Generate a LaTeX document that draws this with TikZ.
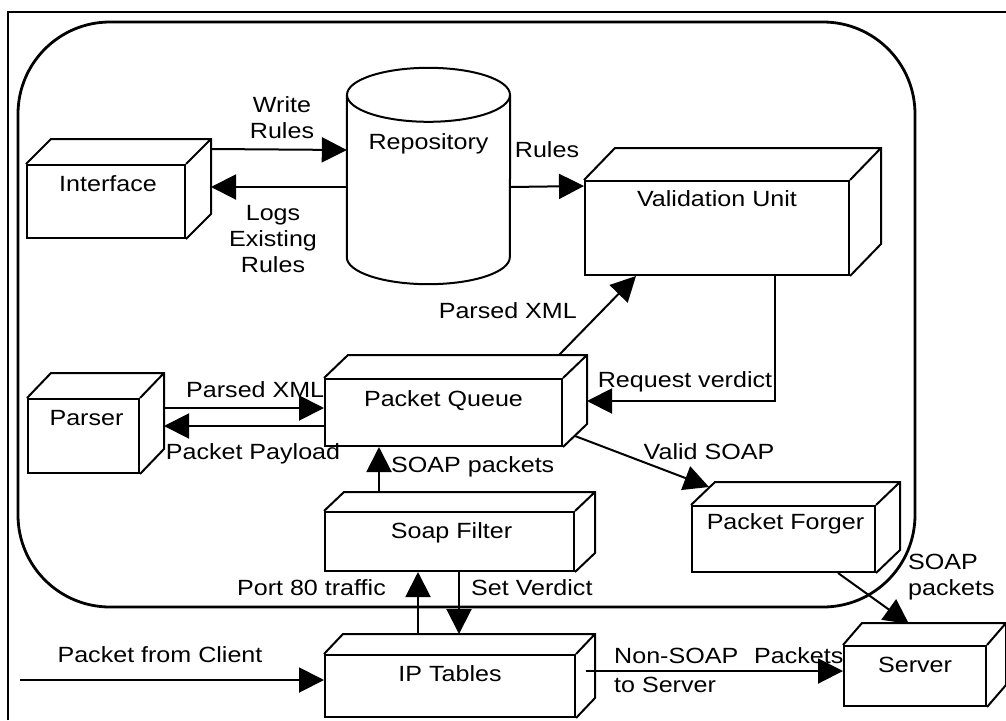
\documentclass[tikz,border=0pt]{standalone}
\usepackage{fontspec}
\setmainfont{Liberation Sans}[FakeStretch=1.14]
\usetikzlibrary{arrows.meta,calc,backgrounds}
\newcommand\cubefaces[3]{%
  \draw[boxline] (#1.north west) -- ++(#2,#3) -- ($(#1.north east)+(#2,#3)$)
    -- ($(#1.south east)+(#2,#3)$) -- (#1.south east)
    (#1.north east) -- ++(#2,#3);}
\begin{document}
\begin{tikzpicture}[x=1pt,y=-1pt,
  every node/.style={font=\fontsize{22}{26}\selectfont, inner sep=1pt},
  boxline/.style={line width=2pt, line join=miter},
  cube/.style={draw, boxline, fill=white, inner sep=0pt},
  boxtext/.style={anchor=center, yshift=-20pt, text height=15pt, text depth=0pt},
  lbl/.style={align=center},
  lbl1/.style={text height=15pt, text depth=0pt},
  arr/.style={line width=2pt, -{Triangle[length=25pt,width=25pt]}}]
\useasboundingbox (0,0) rectangle (1006,720);
% outer frame
\draw[line width=2.6pt] (8,720) -- (8,12) -- (1006,12);
% enclosing rounded box
\draw[line width=2.8pt, rounded corners=92pt] (18,22) rectangle (915,607);

% repository cylinder
\node[minimum width=163pt, minimum height=216pt, inner sep=0pt,
      label={[boxtext, yshift=-54pt]north:Repository}] (repo) at (428.5,176) {};
\begin{pgfonlayer}{background}
\draw[boxline, fill=white] ([shift={(0,27)}]repo.north west) -- ([shift={(0,-27)}]repo.south west)
  arc[start angle=180, end angle=360, x radius=81.5pt, y radius=27pt]
  -- ([shift={(0,27)}]repo.north east);
\draw[boxline, fill=white] ([shift={(0,27)}]repo.north) ellipse[x radius=81.5pt, y radius=27pt];
\end{pgfonlayer}

% boxes
\node[cube, minimum width=158pt, minimum height=73pt, label={[boxtext, xshift=2pt]north:Interface}] (iface) at (106,201.5) {};
\cubefaces{iface}{25}{-25}
\node[cube, minimum width=264pt, minimum height=94pt, label={[boxtext, yshift=1pt]north:Validation Unit}] (valid) at (717,228) {};
\cubefaces{valid}{31}{-32}
\node[cube, minimum width=237pt, minimum height=67pt, label={[boxtext, yshift=-1pt]north:Packet Queue}] (queue) at (443.5,412.5) {};
\cubefaces{queue}{24}{-23}
\node[cube, minimum width=111pt, minimum height=74pt, label={[boxtext, xshift=3pt]north:Parser}] (parser) at (83.5,436) {};
\cubefaces{parser}{24}{-25}
\node[cube, minimum width=249pt, minimum height=59pt, label={[boxtext, xshift=2pt]north:Soap Filter}] (filter) at (449.5,541.5) {};
\cubefaces{filter}{20}{-19}
\node[cube, minimum width=250pt, minimum height=62pt, label={[boxtext]north:IP Tables}] (ipt) at (450,686) {};
\cubefaces{ipt}{19}{-20}
\node[cube, minimum width=183pt, minimum height=66pt, label={[boxtext, yshift=3pt, xshift=2pt]north:Packet Forger}] (forger) at (783.5,539) {};
\cubefaces{forger}{24}{-23}
\node[cube, minimum width=142pt, minimum height=60pt, label={[boxtext]north:Server}] (server) at (915,676) {};
\cubefaces{server}{19}{-22}

% connectors
\draw[arr] ([shift={(25,-15)}]iface.north east) -- ([shift={(0,-26)}]repo.west);
\draw[arr] ([shift={(0,11)}]repo.west) -- ([shift={(25,-14.5)}]iface.east);
\draw[arr] ([shift={(0,11)}]repo.east) -- ([shift={(0,6)}]valid.north west);
\draw[arr] ([shift={(-4,-23)}]queue.north east) -- ([shift={(52,0)}]valid.south west);
\draw[arr] ([shift={(58,0)}]valid.south) |- ([shift={(24,-11.5)}]queue.east);
\draw[arr] ([shift={(24,-28)}]parser.east) -- ([shift={(0,-4.5)}]queue.west);
\draw[arr] ([shift={(0,13.5)}]queue.west) -- ([shift={(24,-10)}]parser.east);
\draw[arr] ([shift={(55,-19)}]filter.north west) -- ([shift={(55,0)}]queue.south west);
\draw[arr] ([shift={(94,-20)}]ipt.north west) -- ([shift={(94,0)}]filter.south west);
\draw[arr] ([shift={(135,0)}]filter.south west) -- ([shift={(135,-20)}]ipt.north west);
\coordinate (client) at (20,680);
\draw[arr] (client) -- ([shift={(0,-6)}]ipt.west);
\draw[arr] ([shift={(12,-11)}]queue.south east) -- ([shift={(18,-18)}]forger.north west);
\draw[arr] ([shift={(-38,0)}]forger.south east) -- ([shift={(66,-21)}]server.north west);
\draw[arr] ([shift={(10,-15)}]ipt.east) -- ([shift={(0,-5)}]server.west);

% labels
\node[lbl] (lWR) at (282,118) {Write\\Rules};
\node[lbl] (lLogs) at (273,239) {Logs\\Existing\\Rules};
\node[lbl1] (lRules) at (547,150) {Rules};
\node[lbl1, anchor=east] (lPX1) at (578,311) {Parsed XML};
\node[lbl1] (lRV) at (685,380) {Request verdict};
\node[lbl1, anchor=west] (lPX2) at (185,390) {Parsed XML};
\node[lbl1] (lPP) at (253,452) {Packet Payload};
\node[lbl1, anchor=west] (lSP) at (390,465) {SOAP packets};
\node[lbl1, anchor=east] (lP80) at (387,588) {Port 80 traffic};
\node[lbl1, anchor=west] (lSV) at (470,588) {Set Verdict};
\node[lbl1] (lPC) at (160,655) {Packet from Client};
\node[lbl1] (lVS) at (709,452) {Valid SOAP};
\node[lbl, anchor=west, align=left] (lSP2) at (907,577) {SOAP\\packets};
\node[lbl, anchor=west, align=left] (lNS) at (613,670) {Non-SOAP\hspace{16pt}Packets\\[3pt]to Server};
\end{tikzpicture}
\end{document}
